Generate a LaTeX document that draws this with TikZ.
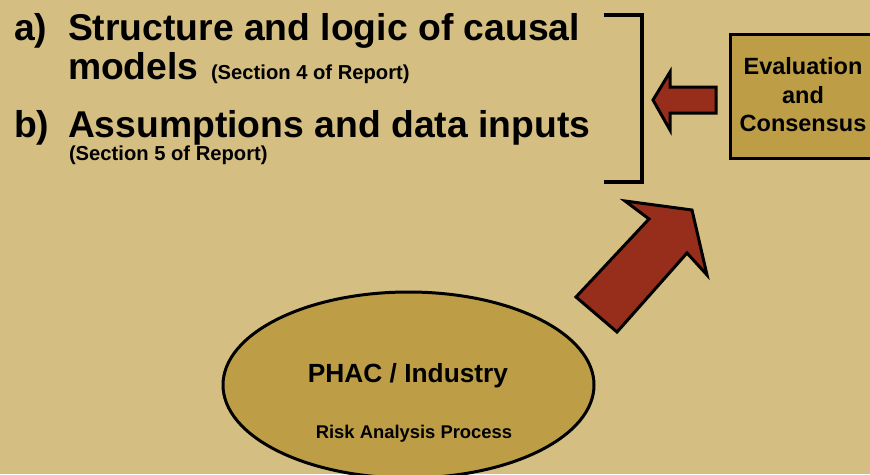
\documentclass[tikz,border=0pt]{standalone}
\usepackage{fontspec}
\setmainfont{Liberation Sans}
\usetikzlibrary{shapes.geometric}
\definecolor{bgtan}{HTML}{D4BE82}
\definecolor{boxgold}{HTML}{BD9E47}
\definecolor{arrowred}{HTML}{962E1B}
\tikzset{
  txt/.style={inner sep=0pt, outer sep=0pt, anchor=base west, font=\bfseries},
  big/.style={txt, font=\bfseries\fontsize{37.3}{44}\selectfont},
  note/.style={txt, font=\bfseries\fontsize{20.2}{24}\selectfont},
  blockarrow/.style={fill=arrowred, draw=black, line width=3pt, line join=miter},
}
\begin{document}
\begin{tikzpicture}[x=1pt, y=-1pt]
  \fill[bgtan] (0,0) rectangle (870,474);
  \useasboundingbox (0,0) rectangle (870,474);
  \clip (0,0) rectangle (870,474);

  % list of items
  \node[big] (la) at (14,40) {a)};
  \node[big] (l1) at (68,40) {Structure and logic of causal};
  \node[big] (l2) at (68,79) {models};
  \node[note] (n1) at (211,79) {(Section 4 of Report)};
  \node[big] (lb) at (14,137) {b)};
  \node[big] (l3) at (68,137) {Assumptions and data inputs};
  \node[note] (n2) at (69,160) {(Section 5 of Report)};

  % closing bracket
  \draw[line width=3.4pt, line cap=butt, line join=miter] (604,15) -| (642,182) -- (604,182);

  % evaluation box, running off the right edge
  \node[draw=black, line width=3.4pt, fill=boxgold, minimum width=180pt, minimum height=124pt,
        anchor=north west, inner sep=0pt] (ev) at (729,33) {};
  \node[align=center, font=\bfseries\fontsize{23.5}{28.5}\selectfont, inner sep=0pt]
        (evt) at (803,95) {Evaluation\\and\\Consensus};

  % arrow from the box back to the bracket
  \coordinate (tipL) at (653,100);
  \filldraw[blockarrow] (716,87) -- (670,87) -- (670,72) -- (tipL) -- (670,130) -- (670,113) -- (716,113) -- cycle;

  % process ellipse
  \node[ellipse, draw=black, line width=3pt, fill=boxgold, minimum width=371pt, minimum height=186pt,
        inner sep=0pt] (ph) at (408.5,385) {};
  \node[font=\bfseries\fontsize{26.3}{30}\selectfont, inner sep=0pt, anchor=base] (pht) at (408,382) {PHAC / Industry};
  \node[font=\bfseries\fontsize{18.4}{22}\selectfont, inner sep=0pt, anchor=base] (rap) at (414,438) {Risk Analysis Process};

  % diagonal arrow rising from the process
  \coordinate (tipD) at (692,210);
  \filldraw[blockarrow] (576,297) -- (649,219) -- (625,201) -- (tipD) -- (707,275) -- (687,253) -- (617,332) -- cycle;
\end{tikzpicture}
\end{document}
